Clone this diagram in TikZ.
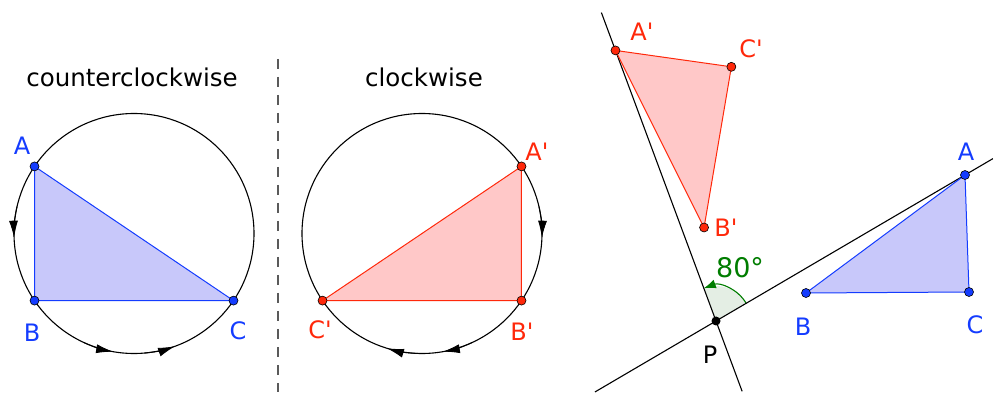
\documentclass[tikz,border=0pt]{standalone}
\usepackage{fontspec}
\setmainfont{DejaVu Sans}
\usepackage{xcolor}
\usepackage{tikz}
\usetikzlibrary{arrows.meta, calc, angles}

\definecolor{ptblue}{RGB}{20,60,255}
\definecolor{fillblue}{RGB}{200,200,250}
\definecolor{ptred}{RGB}{255,40,10}
\definecolor{fillred}{RGB}{255,200,200}
\definecolor{anglegreen}{RGB}{0,125,0}
\definecolor{anglefill}{RGB}{228,238,228}
\definecolor{dashgray}{RGB}{90,90,90}

\newcommand{\primemark}{\textquotesingle}

\tikzstyle{bluedot} = [circle, draw=black, fill=ptblue, inner sep=0pt, minimum size=9pt, line width=0.6pt]
\tikzstyle{reddot} = [circle, draw=black, fill=ptred, inner sep=0pt, minimum size=9pt, line width=0.6pt]
\tikzstyle{blackdot} = [circle, fill=black, inner sep=0pt, minimum size=9pt]
\tikzstyle{bluetri} = [fill=fillblue, draw=ptblue, line width=1pt]
\tikzstyle{redtri} = [fill=fillred, draw=ptred, line width=1pt]
\tikzstyle{bluelbl} = [text=ptblue, font=\fontsize{24}{28}\selectfont]
\tikzstyle{redlbl} = [text=ptred, font=\fontsize{24}{28}\selectfont]
\tikzstyle{title} = [anchor=base, font=\fontsize{24.5}{29}\selectfont]
\tikzstyle{turn} = [
    line width=0.9pt,
    -{Latex[length=17pt,width=9pt]}
]

\begin{document}
\begin{tikzpicture}[x=1pt,y=1pt]
\useasboundingbox (0,0) rectangle (994,394);

% counterclockwise
\coordinate (cl) at (134,160.5);
\coordinate (A) at ($(cl)+(146:120pt)$);
\coordinate (B) at ($(cl)+(214:120pt)$);
\coordinate (C) at ($(cl)+(-34:120pt)$);

\node[title] (ttlccw) at (132,307) {counterclockwise};

\draw[line width=1.1pt] (cl) circle (120pt);

\filldraw[bluetri] (A) -- (B) -- (C) -- cycle;

\draw[turn] ([shift={(167:120pt)}]cl) arc (167:182:120pt);
\draw[turn] ([shift={(245:120pt)}]cl) arc (245:260:120pt);
\draw[turn] ([shift={(275:120pt)}]cl) arc (275:290:120pt);

\node[bluedot] (dA) at (A) {};
\node[bluedot] (dB) at (B) {};
\node[bluedot] (dC) at (C) {};

\node[bluelbl] (labA) at (22,248) {A};
\node[bluelbl] (labB) at (32,61) {B};
\node[bluelbl] (labC) at (238,63) {C};

% separator
\coordinate (sepTop) at (278,335);
\coordinate (sepBot) at (278,2);
\draw[dashgray, line width=1.3pt, dash pattern=on 10pt off 8pt] (sepTop) -- (sepBot);

% clockwise
\coordinate (cm) at (422,160.5);
\coordinate (Am) at ($(cm)+(34:120pt)$);
\coordinate (Bm) at ($(cm)+(-34:120pt)$);
\coordinate (Cm) at ($(cm)+(214:120pt)$);

\node[title] (ttlcw) at (424,307) {clockwise};

\draw[line width=1.1pt] (cm) circle (120pt);

\filldraw[redtri] (Am) -- (Bm) -- (Cm) -- cycle;

\draw[turn] ([shift={(13:120pt)}]cm) arc (13:-2:120pt);
\draw[turn] ([shift={(295:120pt)}]cm) arc (295:280:120pt);
\draw[turn] ([shift={(268:120pt)}]cm) arc (268:253:120pt);

\node[reddot] (dAm) at (Am) {};
\node[reddot] (dBm) at (Bm) {};
\node[reddot] (dCm) at (Cm) {};

\node[redlbl] (labAm) at (537,242) {A\primemark};
\node[redlbl] (labBm) at (522,62) {B\primemark};
\node[redlbl] (labCm) at (320,64) {C\primemark};

% rotation about P
\coordinate (P) at (716,73);
\coordinate (Ar) at (965,219);
\coordinate (Br) at (806,101);
\coordinate (Cr) at (969,102);
\coordinate (A2) at ($(P)!1!80:(Ar)$);
\coordinate (B2) at ($(P)!1!80:(Br)$);
\coordinate (C2) at ($(P)!1!80:(Cr)$);

\pic[draw=anglegreen, fill=anglefill, line width=1.1pt,
     -{Latex[length=12pt,width=9pt]}, angle radius=35pt] {angle=Ar--P--A2};

\draw[line width=1.1pt] ($(P)!-0.486!(Ar)$) -- ($(P)!1.112!(Ar)$);
\draw[line width=1.1pt] ($(P)!-0.26!(A2)$) -- ($(P)!1.14!(A2)$);

\filldraw[bluetri] (Ar) -- (Br) -- (Cr) -- cycle;
\filldraw[redtri] (A2) -- (B2) -- (C2) -- cycle;

\node[bluedot] (dAr) at (Ar) {};
\node[bluedot] (dBr) at (Br) {};
\node[bluedot] (dCr) at (Cr) {};
\node[reddot] (dA2) at (A2) {};
\node[reddot] (dB2) at (B2) {};
\node[reddot] (dC2) at (C2) {};
\node[blackdot] (dP) at (P) {};

\node[bluelbl] (labAr) at (966,242) {A};
\node[bluelbl] (labBr) at (803,67) {B};
\node[bluelbl] (labCr) at (975,69) {C};
\node[redlbl] (labA2) at (642,362) {A\primemark};
\node[redlbl] (labB2) at (726,166) {B\primemark};
\node[redlbl] (labC2) at (751,345) {C\primemark};
\node[font=\fontsize{24}{28}\selectfont] (labP) at (710,39) {P};
\node[text=anglegreen, font=\fontsize{27}{32}\selectfont] (labang) at (740,126) {80°};

\end{tikzpicture}
\end{document}
